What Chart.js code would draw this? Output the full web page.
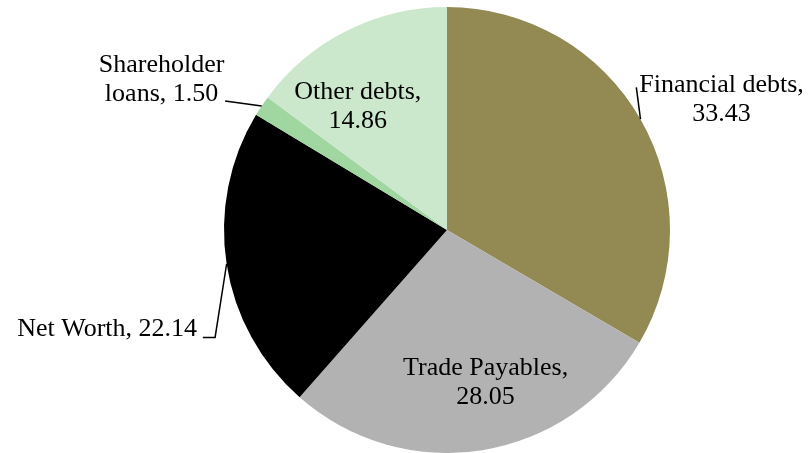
<!DOCTYPE html>
<html>
<head>
<meta charset="utf-8">
<script src="https://cdn.jsdelivr.net/npm/chart.js@4.4.0/dist/chart.umd.min.js"></script>
<style>
  html, body { margin: 0; padding: 0; background: #fff; }
  .contenedor { width: 810px; height: 453px; position: relative; }
</style>
</head>
<body>
<div class="contenedor"><canvas id="grafico"></canvas></div>
<script>
const categorias = ['Financial debts', 'Trade Payables', 'Net Worth', 'Shareholder loans', 'Other debts'];
const valores = [33.43, 28.05, 22.14, 1.50, 14.86];
const colores = ['#938953', '#b2b2b2', '#000000', '#a0d6a0', '#cce8cc'];

// label lines (text) for each slice
const etiquetas = [
    ['Financial debts,', '33.43'],
    ['Trade Payables,', '28.05'],
    ['Net Worth, 22.14'],
    ['Shareholder', 'loans, 1.50'],
    ['Other debts,', '14.86']
];

// where each label goes, relative to pie center in units of radius
// leader: list of extra points (relative too) between arc edge and text
const posiciones = [
    { x: 1.231, y: -0.585, align: 'center', leader: [[0.849, -0.64]] },
    { x: 0.173, y: 0.684, align: 'center', leader: null },
    { x: -1.121, y: 0.444, align: 'right', leader: [[-1.04, 0.482], [-1.095, 0.482]] },
    { x: -1.28, y: -0.673, align: 'center', leader: [[-0.995, -0.578]] },
    { x: -0.40, y: -0.554, align: 'center', leader: null }
];

const etiquetasPlugin = {
    id: 'etiquetas',
    afterDraw(chart) {
        const ctx = chart.ctx;
        const arcs = chart.getDatasetMeta(0).data;
        ctx.save();
        ctx.font = '26px "Liberation Serif", "Times New Roman", serif';
        ctx.fillStyle = '#000';
        ctx.strokeStyle = '#000';
        ctx.lineWidth = 1.5;
        ctx.textBaseline = 'middle';
        arcs.forEach((arc, i) => {
            const p = arc.getProps(['x', 'y', 'startAngle', 'endAngle', 'outerRadius'], true);
            const r = p.outerRadius;
            const pos = posiciones[i];
            if (pos.leader) {
                const mid = (p.startAngle + p.endAngle) / 2;
                ctx.beginPath();
                ctx.moveTo(p.x + Math.cos(mid) * r, p.y + Math.sin(mid) * r);
                pos.leader.forEach(pt => ctx.lineTo(p.x + pt[0] * r, p.y + pt[1] * r));
                ctx.stroke();
            }
            const lineas = etiquetas[i];
            const lh = 29;
            const tx = p.x + pos.x * r;
            const ty = p.y + pos.y * r;
            ctx.textAlign = pos.align;
            lineas.forEach((t, k) => {
                ctx.fillText(t, tx, ty + (k - (lineas.length - 1) / 2) * lh);
            });
        });
        ctx.restore();
    }
};

const ctx = document.getElementById('grafico').getContext('2d');
new Chart(ctx, {
    type: 'pie',
    data: {
        labels: categorias,
        datasets: [{
            data: valores,
            backgroundColor: colores,
            borderWidth: 0
        }]
    },
    options: {
        responsive: true,
        maintainAspectRatio: false,
        animation: false,
        layout: { padding: { left: 84, right: 0, top: 7, bottom: 0 } },
        plugins: {
            legend: { display: false },
            tooltip: { enabled: false }
        }
    },
    plugins: [etiquetasPlugin]
});
</script>
</body>
</html>
